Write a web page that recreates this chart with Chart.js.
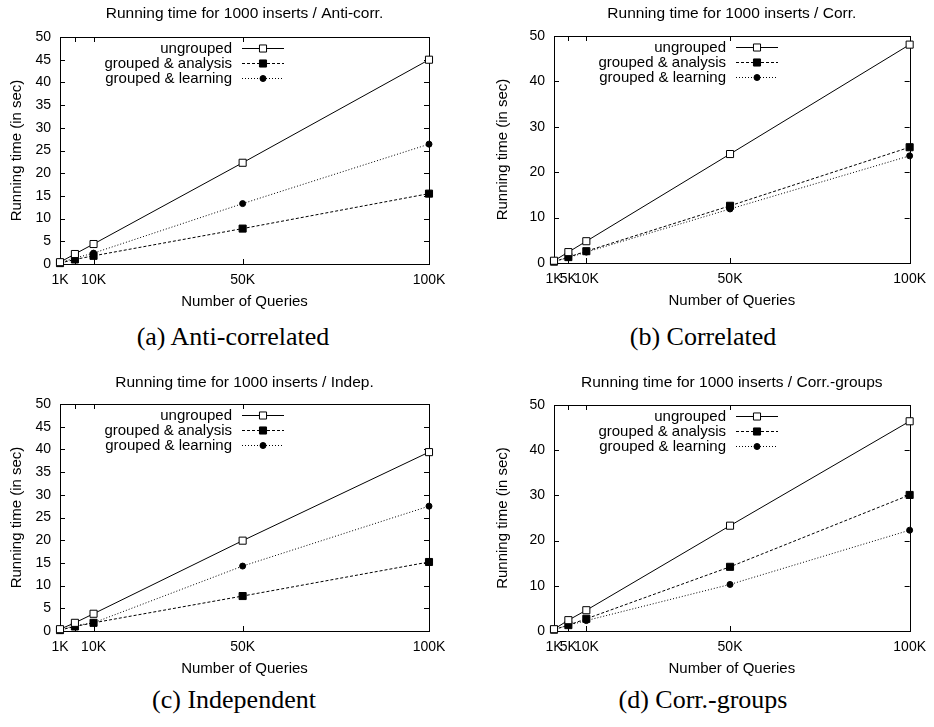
<!DOCTYPE html>
<html>
<head>
<meta charset="utf-8">
<script src="https://cdn.jsdelivr.net/npm/chart.js@4.4.1/dist/chart.umd.min.js"></script>
<style>
  body { margin: 0; background: #fff; width: 934px; height: 727px; position: relative; overflow: hidden; }
  canvas { position: absolute; }
  .cap { position: absolute; width: 300px; text-align: center; font-family: "Liberation Serif", "Times New Roman", serif;
         font-size: 26px; line-height: 30px; color: #000; }
</style>
</head>
<body>
<canvas id="gA"></canvas>
<canvas id="gB"></canvas>
<canvas id="gC"></canvas>
<canvas id="gD"></canvas>
<div class="cap" style="left:83px;top:322px">(a) Anti-correlated</div>
<div class="cap" style="left:553px;top:322px">(b) Correlated</div>
<div class="cap" style="left:84px;top:685px">(c) Independent</div>
<div class="cap" style="left:553px;top:685px">(d) Corr.-groups</div>
<script>
// number of queries (x) and running times in seconds
var queries = [1000, 5000, 10000, 50000, 100000];
var tickLabelsSparse = ['1K', '', '10K', '50K', '100K'];
var tickLabelsFull = ['1K', '5K', '10K', '50K', '100K'];
var seriesNames = ['ungrouped', 'grouped & analysis', 'grouped & learning'];

var antiUngrouped = [0.4, 2.2, 4.4, 22.3, 45.0];
var antiAnalysis  = [0.2, 1.0, 1.8, 7.8, 15.5];
var antiLearning  = [0.3, 1.3, 2.4, 13.3, 26.4];

var corrUngrouped = [0.5, 2.4, 4.8, 24.0, 48.1];
var corrAnalysis  = [0.3, 1.3, 2.6, 12.6, 25.5];
var corrLearning  = [0.3, 1.2, 2.4, 11.9, 23.6];

var indepUngrouped = [0.4, 1.8, 3.8, 19.9, 39.4];
var indepAnalysis  = [0.2, 1.0, 1.8, 7.7, 15.2];
var indepLearning  = [0.2, 1.2, 1.8, 14.3, 27.5];

var groupsUngrouped = [0.4, 2.4, 4.6, 23.3, 46.4];
var groupsAnalysis  = [0.3, 1.3, 2.7, 14.2, 30.1];
var groupsLearning  = [0.3, 1.3, 2.3, 10.3, 22.3];

Chart.defaults.color = '#000';
Chart.defaults.font.family = '"Liberation Sans", Arial, sans-serif';

var styles = [
  { dash: [], pointStyle: 'rect', radius: 5, fill: '#fff' },
  { dash: [3, 2], pointStyle: 'rect', radius: 5, fill: '#000' },
  { dash: [1, 2], pointStyle: 'circle', radius: 3, fill: '#000' }
];

// gnuplot-like box: frame, inward mirrored ticks, key inside the plot
var gnuplotBox = {
  id: 'gnuplotBox',
  beforeDatasetsDraw: function (chart) {
    var ctx = chart.ctx, a = chart.chartArea;
    var xs = chart.scales.x, ys = chart.scales.y;
    ctx.save();
    ctx.strokeStyle = '#000';
    ctx.lineWidth = 1;
    ctx.setLineDash([]);
    ctx.strokeRect(Math.round(a.left) + 0.5, Math.round(a.top) + 0.5,
                   Math.round(a.right - a.left), Math.round(a.bottom - a.top));
    ctx.beginPath();
    xs.ticks.forEach(function (t) {
      var px = Math.round(xs.getPixelForValue(t.value)) + 0.5;
      ctx.moveTo(px, a.bottom); ctx.lineTo(px, a.bottom - 5);
      ctx.moveTo(px, a.top); ctx.lineTo(px, a.top + 5);
    });
    ys.ticks.forEach(function (t) {
      var py = Math.round(ys.getPixelForValue(t.value)) + 0.5;
      ctx.moveTo(a.left, py); ctx.lineTo(a.left + 5, py);
      ctx.moveTo(a.right, py); ctx.lineTo(a.right - 5, py);
    });
    ctx.stroke();
    ctx.restore();
  },
  afterDatasetsDraw: function (chart) {
    var ctx = chart.ctx, a = chart.chartArea;
    ctx.save();
    ctx.strokeStyle = '#000';
    ctx.lineWidth = 1;
    ctx.font = '15px "Liberation Sans", Arial, sans-serif';
    ctx.textAlign = 'right';
    ctx.textBaseline = 'middle';
    chart.data.datasets.forEach(function (ds, i) {
      var y = Math.round(a.top + 11 + i * 15) + 0.5;
      var st = styles[i];
      ctx.fillStyle = '#000';
      ctx.fillText(ds.label, a.left + 172, y);
      ctx.setLineDash(st.dash);
      ctx.beginPath();
      ctx.moveTo(a.left + 182, y);
      ctx.lineTo(a.left + 224, y);
      ctx.stroke();
      ctx.setLineDash([]);
      ctx.fillStyle = st.fill;
      Chart.helpers.drawPoint(ctx, { pointStyle: st.pointStyle, radius: st.radius, rotation: 0, borderWidth: 1 },
                              a.left + 203, y);
    });
    ctx.restore();
  }
};

function makePanel(id, title, series, labels, yStep, box) {
  var canvas = document.getElementById(id);
  var h = box.B + 50 - box.ct;
  canvas.width = box.cw; canvas.height = h;
  canvas.style.left = box.cl + 'px';
  canvas.style.top = box.ct + 'px';

  var padL = box.yt - 17 - box.cl;
  var yWidth = box.L - box.cl - padL;
  var titleTop = box.ty - box.ct - 9.3;
  var titleBottom = box.T - box.ct - 18.6 - titleTop;

  var datasets = series.map(function (vals, i) {
    var st = styles[i];
    return {
      label: seriesNames[i],
      data: queries.map(function (q, k) { return { x: q, y: vals[k] }; }),
      borderColor: '#000',
      borderWidth: 1,
      borderDash: st.dash,
      pointStyle: st.pointStyle,
      pointRadius: st.radius,
      pointBackgroundColor: st.fill,
      pointBorderColor: '#000',
      pointBorderWidth: 1,
      clip: false,
      tension: 0
    };
  });

  return new Chart(canvas.getContext('2d'), {
    type: 'line',
    data: { datasets: datasets },
    options: {
      responsive: false,
      animation: false,
      devicePixelRatio: 1,
      layout: { padding: { left: padL, right: box.cl + box.cw - box.R, top: 0, bottom: 0 } },
      plugins: {
        legend: { display: false },
        tooltip: { enabled: false },
        title: {
          display: true, text: title, fullSize: false,
          font: { size: 15.5, weight: 'normal' },
          padding: { top: titleTop, bottom: titleBottom }
        }
      },
      scales: {
        x: {
          type: 'linear', min: 1000, max: 100000,
          grid: { display: false, drawTicks: false },
          border: { display: false },
          afterBuildTicks: function (s) { s.ticks = queries.map(function (q) { return { value: q }; }); },
          afterFit: function (s) { s.height = 50; },
          ticks: {
            autoSkip: false, maxRotation: 0, padding: 8,
            font: { size: 14 },
            callback: function (v) { return labels[queries.indexOf(v)]; }
          },
          title: { display: true, text: 'Number of Queries', font: { size: 15 }, padding: { top: 0, bottom: 3 } }
        },
        y: {
          min: 0, max: 50,
          grid: { display: false, drawTicks: false },
          border: { display: false },
          afterFit: function (s) { s.width = yWidth; },
          ticks: { stepSize: yStep, padding: 9, font: { size: 14 } },
          title: { display: true, text: 'Running time (in sec)', font: { size: 15 }, padding: { top: 8, bottom: 0 } }
        }
      }
    },
    plugins: [gnuplotBox]
  });
}

makePanel('gA', 'Running time for 1000 inserts / Anti-corr.',
  [antiUngrouped, antiAnalysis, antiLearning], tickLabelsSparse, 5,
  { cl: 0, ct: 0, cw: 467, L: 60, T: 37, R: 429, B: 264, ty: 14, yt: 17 });
makePanel('gB', 'Running time for 1000 inserts / Corr.',
  [corrUngrouped, corrAnalysis, corrLearning], tickLabelsFull, 10,
  { cl: 467, ct: 0, cw: 467, L: 554, T: 36, R: 915, B: 263, ty: 14, yt: 503 });
makePanel('gC', 'Running time for 1000 inserts / Indep.',
  [indepUngrouped, indepAnalysis, indepLearning], tickLabelsSparse, 5,
  { cl: 0, ct: 360, cw: 467, L: 60, T: 404, R: 429, B: 631, ty: 383, yt: 17 });
makePanel('gD', 'Running time for 1000 inserts / Corr.-groups',
  [groupsUngrouped, groupsAnalysis, groupsLearning], tickLabelsFull, 10,
  { cl: 467, ct: 360, cw: 467, L: 554, T: 405, R: 915, B: 631, ty: 383, yt: 503 });
</script>
</body>
</html>
